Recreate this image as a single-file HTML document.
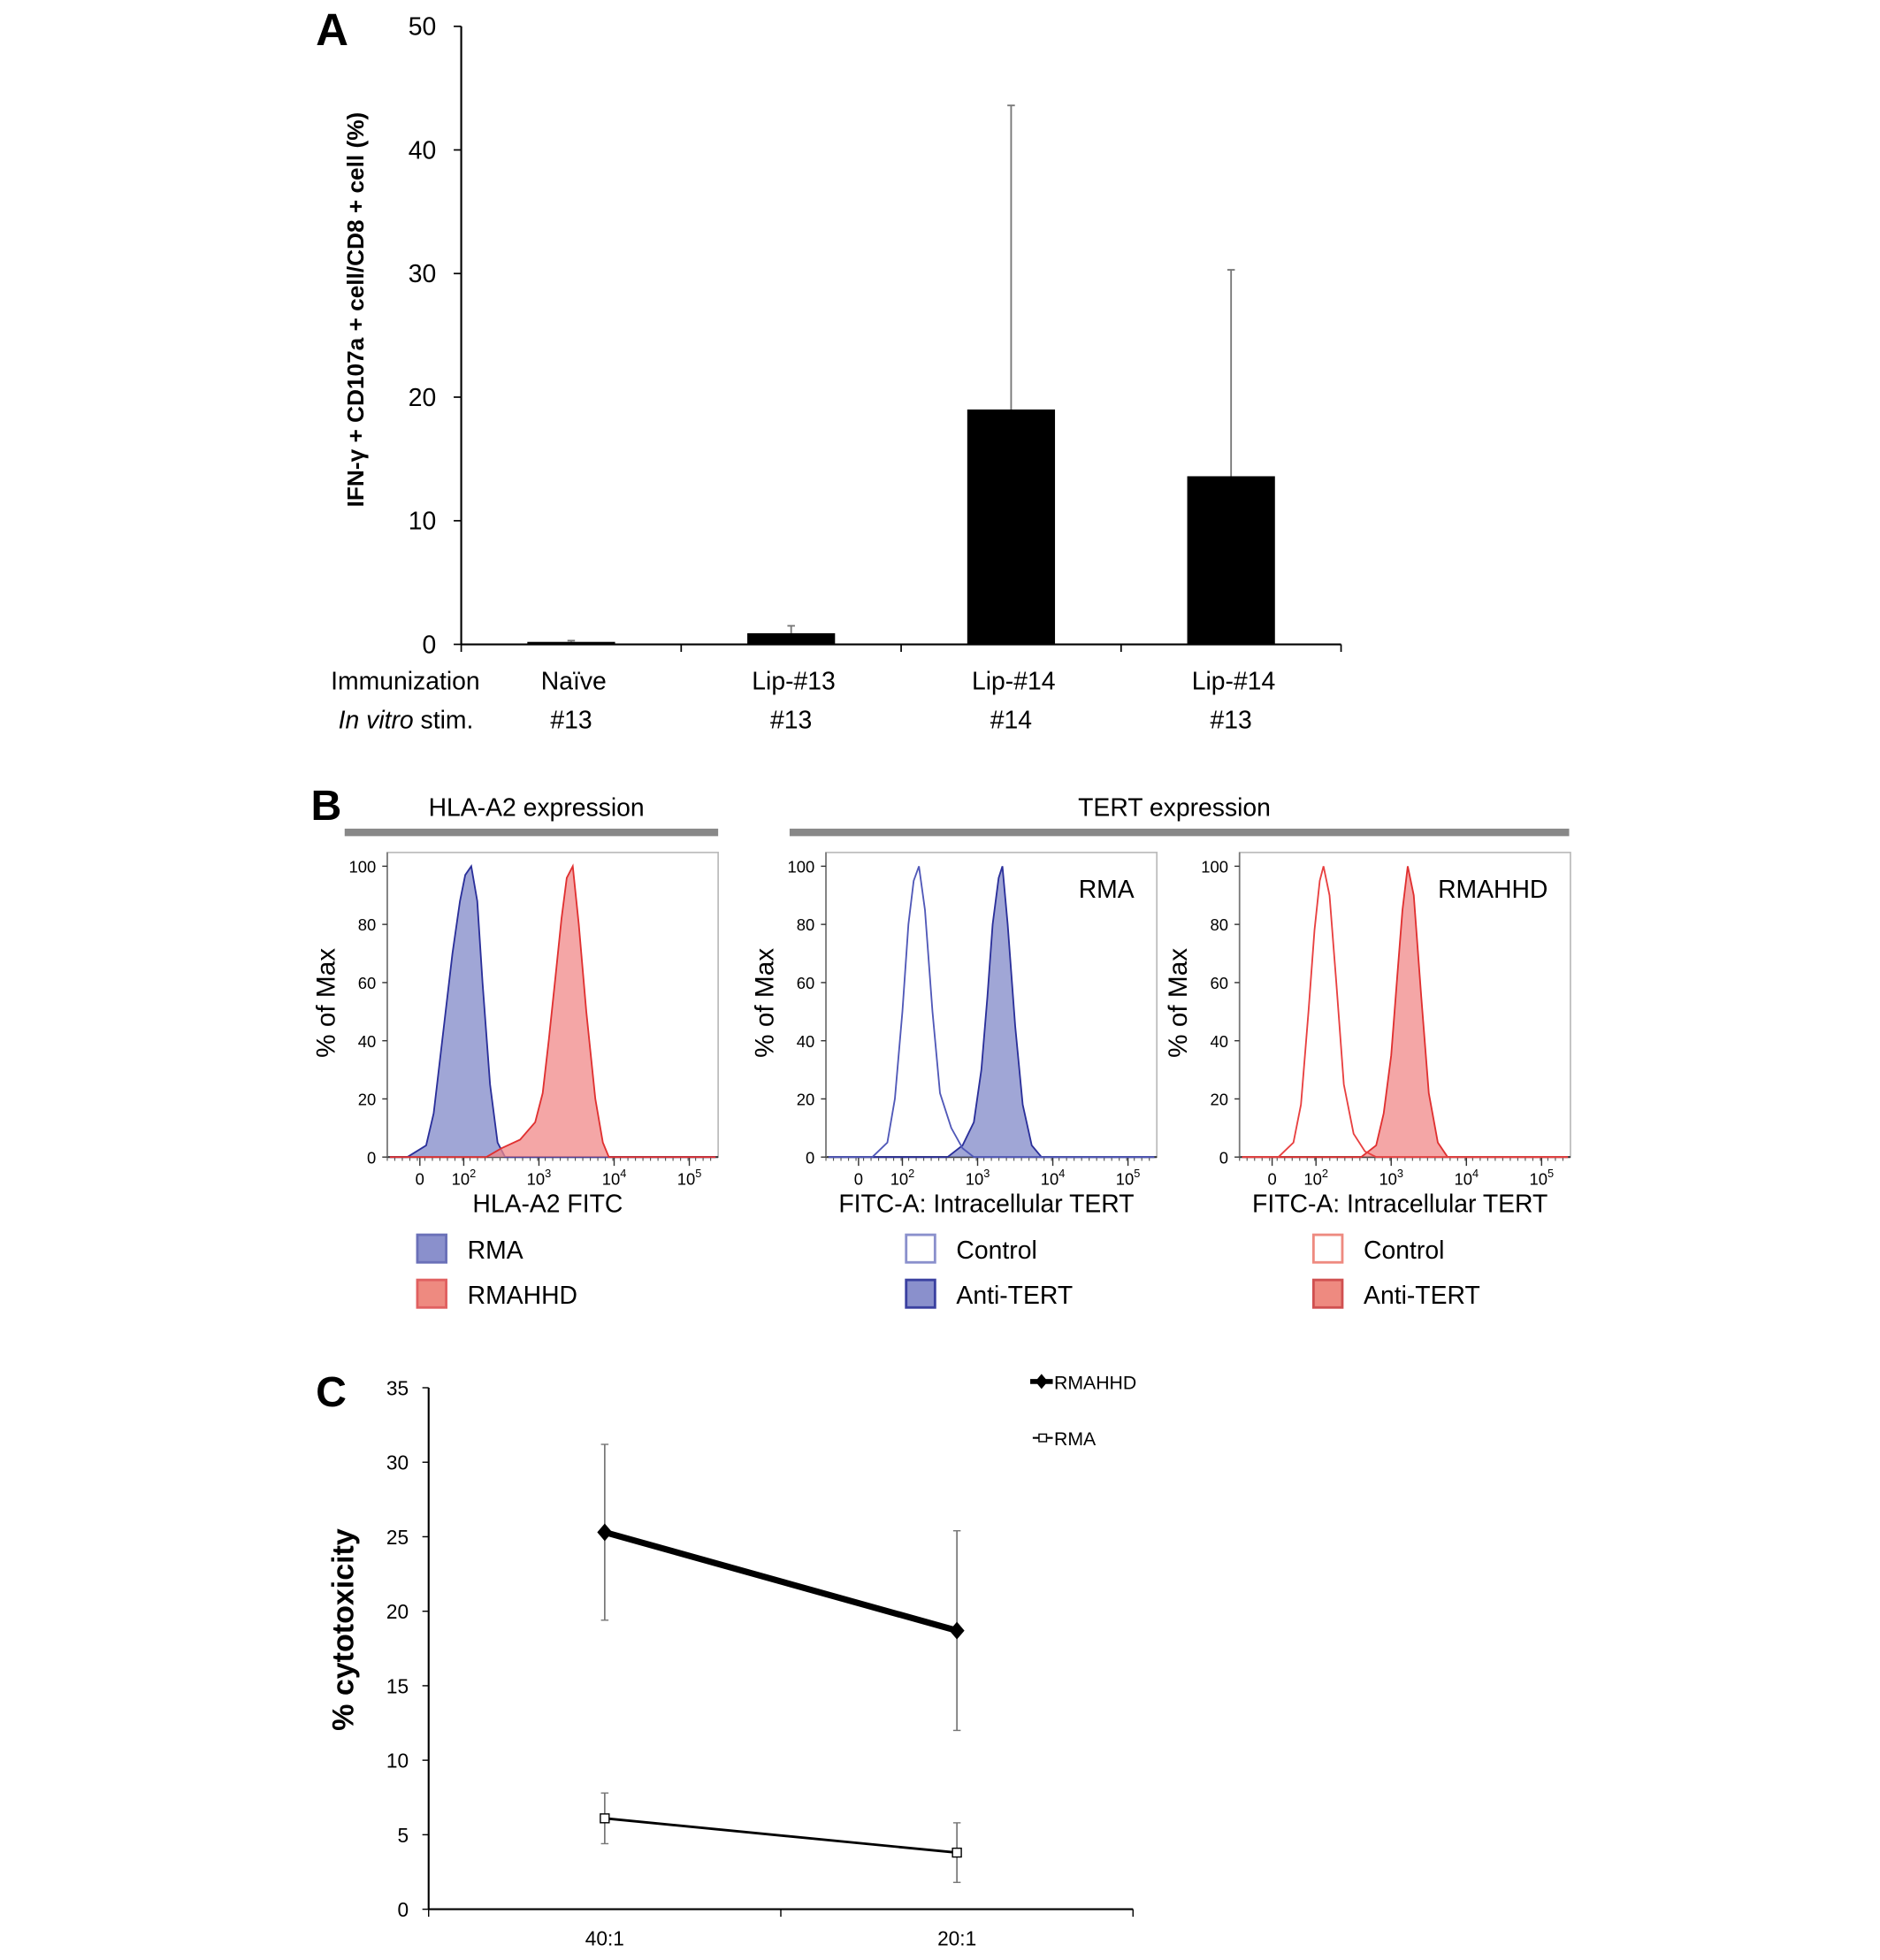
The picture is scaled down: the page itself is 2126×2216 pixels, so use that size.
<!DOCTYPE html>
<html><head><meta charset="utf-8">
<style>
html,body{margin:0;padding:0;background:#fff}
svg{display:block}
text{font-family:"Liberation Sans",sans-serif}
</style></head>
<body>
<svg id="fig" width="2126" height="2216" viewBox="0 0 1500 1563.5" xmlns="http://www.w3.org/2000/svg">
<g id="pa"></g>
<g id="pb"></g>
<g id="pc"></g>
</svg>
<script>
// Panel A data
const catsImm = ["Naïve","Lip-#13","Lip-#14","Lip-#14"];
const catsStim = ["#13","#13","#14","#13"];
const barValues = [0.2, 0.9, 19.0, 13.6];
const barErrTop = [0.3, 1.5, 43.6, 30.3];
const aTicks = [0,10,20,30,40,50];
// Panel B histogram data: log10 fluorescence and % of max
const h1RmaLog = [1.25,1.5,1.6,1.75,1.85,1.95,2.02,2.1,2.18,2.25,2.35,2.45,2.55];
const h1RmaPct = [0,4,15,48,70,88,97,100,88,60,25,5,0];
const h1HhdLog = [2.3,2.5,2.75,2.95,3.05,3.13,3.22,3.3,3.37,3.45,3.53,3.63,3.75,3.85,3.93];
const h1HhdPct = [0,3,6,12,22,40,62,82,96,100,80,50,20,5,0];
const h2CtlLog = [1.6,1.8,1.9,2.0,2.08,2.15,2.22,2.3,2.4,2.5,2.65,2.8,2.95];
const h2CtlPct = [0,5,20,50,80,95,100,85,50,22,10,3,0];
const h2AntiLog = [2.6,2.8,2.95,3.05,3.13,3.2,3.28,3.33,3.4,3.5,3.6,3.72,3.85];
const h2AntiPct = [0,4,12,30,55,80,96,100,80,45,18,4,0];
const h3CtlLog = [1.5,1.7,1.8,1.9,1.98,2.05,2.1,2.18,2.27,2.37,2.5,2.65,2.8];
const h3CtlPct = [0,5,18,50,78,95,100,90,60,25,8,2,0];
const h3AntiLog = [2.6,2.8,2.9,3.0,3.08,3.15,3.22,3.3,3.4,3.5,3.62,3.75];
const h3AntiPct = [0,4,15,35,62,85,100,90,55,22,5,0];
const bTicks = [0,20,40,60,80,100];
// Panel C data
const cCats = ["40:1","20:1"];
const rmahhdVals = [25.3, 18.7];
const rmahhdHi = [31.2, 25.4];
const rmahhdLo = [19.4, 12.0];
const rmaVals = [6.1, 3.8];
const rmaHi = [7.8, 5.8];
const rmaLo = [4.4, 1.8];
const cTicks = [0,5,10,15,20,25,30,35];

const NS="http://www.w3.org/2000/svg";
function mk(parent,tag,attrs,txt){const e=document.createElementNS(NS,tag);for(const k in attrs)e.setAttribute(k,attrs[k]);if(txt!==undefined)e.textContent=txt;parent.appendChild(e);return e;}

// ---------- Panel A ----------
const pa=document.getElementById('pa');
const aX0=368,aX1=1070,aY0=514,aY1=21;
const ay=v=>aY0-(v/50)*(aY0-aY1);
const catW=(aX1-aX0)/4;
const acx=i=>aX0+catW*(i+0.5);
let t;
t=mk(pa,'text',{x:252,y:36,'font-size':36,'font-weight':'bold'},'A');

let l=mk(pa,'line',{x1:aX0,y1:aY1,x2:aX0,y2:aY0,stroke:'#000','stroke-width':1.5});

l=mk(pa,'line',{x1:aX0,y1:aY0,x2:aX1,y2:aY0,stroke:'#000','stroke-width':1.5});

aTicks.forEach(v=>{
  mk(pa,'line',{x1:aX0-6,y1:ay(v),x2:aX0,y2:ay(v),stroke:'#000','stroke-width':1.2});
  const tt=mk(pa,'text',{x:348,y:ay(v)+7,'font-size':20,'text-anchor':'end'},String(v));
  
});
for(let i=0;i<=4;i++) mk(pa,'line',{x1:aX0+catW*i,y1:aY0,x2:aX0+catW*i,y2:aY0+6,stroke:'#000','stroke-width':1.2});
barValues.forEach((v,i)=>{
  const cx=acx(i);
  const el=mk(pa,'line',{x1:cx,y1:ay(barErrTop[i]),x2:cx,y2:ay(v),stroke:'#777','stroke-width':1.3});
  
  mk(pa,'line',{x1:cx-3,y1:ay(barErrTop[i]),x2:cx+3,y2:ay(barErrTop[i]),stroke:'#777','stroke-width':1.3});
  const r=mk(pa,'rect',{x:cx-35,y:ay(v),width:70,height:Math.max(aY0-ay(v),1.5),fill:'#000'});
  
  const a=mk(pa,'text',{x:cx+2,y:550,'font-size':20,'text-anchor':'middle'},catsImm[i]);
  
  const b=mk(pa,'text',{x:cx,y:581,'font-size':20,'text-anchor':'middle'},catsStim[i]);
  
});
t=mk(pa,'text',{x:264,y:550,'font-size':20},'Immunization');

t=mk(pa,'text',{x:270,y:581,'font-size':20});

t.innerHTML='<tspan font-style="italic">In vitro</tspan> stim.';
t=mk(pa,'text',{x:0,y:0,'font-size':18.5,'font-weight':'bold','text-anchor':'middle',transform:'translate(290,247) rotate(-90)'},'IFN-γ + CD107a + cell/CD8 + cell (%)');


// ---------- Panel B ----------
const pb=document.getElementById('pb');
t=mk(pb,'text',{x:248,y:654,'font-size':34,'font-weight':'bold'},'B');

t=mk(pb,'text',{x:428,y:651,'font-size':20,'text-anchor':'middle'},'HLA-A2 expression');

t=mk(pb,'text',{x:937,y:651,'font-size':20,'text-anchor':'middle'},'TERT expression');

mk(pb,'rect',{x:275,y:661,width:298,height:6,fill:'#888'});
mk(pb,'rect',{x:630,y:661,width:622,height:6,fill:'#888'});
const BT=680,BB=923,BW=264,Y100=691;
const by=p=>BB-(p/100)*(BB-Y100);
function histo(left,name,xtitle,series,inset,legend){
  const g=mk(pb,'g',{});
  
  const bx=lg=>left+61+(lg-2)*60;
  mk(g,'rect',{x:left,y:BT,width:BW,height:BB-BT,fill:'#fff',stroke:'#bbb','stroke-width':1.2});
  mk(g,'line',{x1:left,y1:BB,x2:left+BW,y2:BB,stroke:'#333','stroke-width':1.5});
  mk(g,'line',{x1:left,y1:BT,x2:left,y2:BB,stroke:'#777','stroke-width':1.2});
  bTicks.forEach(v=>{
    mk(g,'line',{x1:left-4,y1:by(v),x2:left,y2:by(v),stroke:'#333'});
    const tt=mk(g,'text',{x:left-9,y:by(v)+5,'font-size':13,'text-anchor':'end'},String(v));
    
  });
  for(let k=0;k<BW;k+=6) mk(g,'line',{x1:left+k,y1:BB,x2:left+k,y2:BB+3,stroke:'#555','stroke-width':0.8});
  [0,2,3,4,5].forEach((d,i)=>{
    const x=i===0?left+26:bx(d);
    mk(g,'line',{x1:x,y1:BB,x2:x,y2:BB+7,stroke:'#333'});
    const tt=mk(g,'text',{x:x,y:945,'font-size':13,'text-anchor':'middle'});
    
    if(i===0) tt.textContent='0'; else tt.innerHTML='10<tspan dy="-6" font-size="9">'+d+'</tspan>';
  });
  series.forEach(s=>{
    let d='M'+(left+2)+','+BB;
    d+=' L'+bx(s.lg[0])+','+BB;
    s.lg.forEach((lg,i)=>{d+=' L'+bx(lg).toFixed(1)+','+by(s.p[i]).toFixed(1);});
    d+=' L'+(left+BW-2)+','+BB;
    const p=mk(g,'path',{d:d,fill:s.fill,'fill-opacity':s.fill==='none'?0:0.75,stroke:s.stroke,'stroke-width':1.3});
    
  });
  let tt=mk(g,'text',{x:left+BW/2-4,y:967,'font-size':20,'text-anchor':'middle'},xtitle);
  
  tt=mk(g,'text',{x:0,y:0,'font-size':21,'text-anchor':'middle',transform:'translate('+(left-42)+',800) rotate(-90)'},'% of Max');
  
  if(inset){tt=mk(g,'text',{x:left+BW-18,y:716,'font-size':20,'text-anchor':'end'},inset);
    }
  legend.forEach((e,i)=>{
    const yy=985+i*36;
    const r=mk(g,'rect',{x:e.x,y:yy,width:23,height:22,fill:e.fill,stroke:e.stroke,'stroke-width':2});
    
    const lt=mk(g,'text',{x:e.x+40,y:yy+19,'font-size':20},e.label);
    
  });
}
const blueF='#8088c8',blueS='#2a2f9a',redF='#f08888',redS='#e03030';
histo(309,'hla-histogram','HLA-A2 FITC',[
  {lg:h1RmaLog,p:h1RmaPct,fill:blueF,stroke:blueS,name:'rma-histogram'},
  {lg:h1HhdLog,p:h1HhdPct,fill:redF,stroke:redS,name:'rmahhd-histogram'}],null,
  [{x:333,fill:'#8a90cc',stroke:'#6a70b8',label:'RMA'},{x:333,fill:'#ee8a80',stroke:'#e06060',label:'RMAHHD'}]);
histo(659,'tert-rma-histogram','FITC-A: Intracellular TERT',[
  {lg:h2AntiLog,p:h2AntiPct,fill:blueF,stroke:blueS,name:'anti-tert-histogram'},
  {lg:h2CtlLog,p:h2CtlPct,fill:'none',stroke:'#5058b8',name:'control-histogram'}],'RMA',
  [{x:723,fill:'#fff',stroke:'#8a90cc',label:'Control'},{x:723,fill:'#8a90cc',stroke:'#3a40a0',label:'Anti-TERT'}]);
histo(989,'tert-rmahhd-histogram','FITC-A: Intracellular TERT',[
  {lg:h3AntiLog,p:h3AntiPct,fill:redF,stroke:redS,name:'anti-tert-histogram'},
  {lg:h3CtlLog,p:h3CtlPct,fill:'none',stroke:'#e84040',name:'control-histogram'}],'RMAHHD',
  [{x:1048,fill:'#fff',stroke:'#ee8a80',label:'Control'},{x:1048,fill:'#ee8a80',stroke:'#d05050',label:'Anti-TERT'}]);

// ---------- Panel C ----------
const pc=document.getElementById('pc');
const cX0=342,cX1=904,cY0=1523,cY1=1107;
const cy=v=>cY0-(v/35)*(cY0-cY1);
const cx=i=>cX0+(cX1-cX0)/2*(i+0.5);
t=mk(pc,'text',{x:252,y:1122,'font-size':34,'font-weight':'bold'},'C');

l=mk(pc,'line',{x1:cX0,y1:cY1,x2:cX0,y2:cY0,stroke:'#000','stroke-width':1.5});

l=mk(pc,'line',{x1:cX0,y1:cY0,x2:cX1,y2:cY0,stroke:'#000','stroke-width':1.5});

cTicks.forEach(v=>{
  mk(pc,'line',{x1:cX0-5,y1:cy(v),x2:cX0,y2:cy(v),stroke:'#000'});
  const tt=mk(pc,'text',{x:326,y:cy(v)+6,'font-size':16,'text-anchor':'end'},String(v));
  
});
[0,1,2].forEach(k=>mk(pc,'line',{x1:cX0+(cX1-cX0)/2*k,y1:cY0,x2:cX0+(cX1-cX0)/2*k,y2:cY0+6,stroke:'#000'}));
cCats.forEach((c,i)=>{const tt=mk(pc,'text',{x:cx(i),y:1552,'font-size':16,'text-anchor':'middle'},c);
  });
function errs(hi,lo){hi.forEach((h,i)=>{
  const e=mk(pc,'line',{x1:cx(i),y1:cy(h),x2:cx(i),y2:cy(lo[i]),stroke:'#777','stroke-width':1.2});
  
  mk(pc,'line',{x1:cx(i)-3,y1:cy(h),x2:cx(i)+3,y2:cy(h),stroke:'#777'});
  mk(pc,'line',{x1:cx(i)-3,y1:cy(lo[i]),x2:cx(i)+3,y2:cy(lo[i]),stroke:'#777'});});}
errs(rmahhdHi,rmahhdLo);errs(rmaHi,rmaLo);
l=mk(pc,'polyline',{points:rmahhdVals.map((v,i)=>cx(i)+','+cy(v)).join(' '),fill:'none',stroke:'#000','stroke-width':5});

rmahhdVals.forEach((v,i)=>{const m=mk(pc,'polygon',{points:`${cx(i)},${cy(v)-7} ${cx(i)+6},${cy(v)} ${cx(i)},${cy(v)+7} ${cx(i)-6},${cy(v)}`,fill:'#000'});
  });
l=mk(pc,'polyline',{points:rmaVals.map((v,i)=>cx(i)+','+cy(v)).join(' '),fill:'none',stroke:'#000','stroke-width':2});

rmaVals.forEach((v,i)=>{const m=mk(pc,'rect',{x:cx(i)-3.5,y:cy(v)-3.5,width:7,height:7,fill:'#fff',stroke:'#000','stroke-width':1});
  });
t=mk(pc,'text',{x:0,y:0,'font-size':24,'font-weight':'bold','text-anchor':'middle',transform:'translate(282,1300) rotate(-90)'},'% cytotoxicity');

mk(pc,'line',{x1:822,y1:1102,x2:840,y2:1102,stroke:'#000','stroke-width':4});
mk(pc,'polygon',{points:'831,1096 836,1102 831,1108 826,1102',fill:'#000'});
t=mk(pc,'text',{x:841,y:1108,'font-size':15},'RMAHHD');

mk(pc,'line',{x1:824,y1:1147,x2:840,y2:1147,stroke:'#000','stroke-width':1.5});
mk(pc,'rect',{x:829,y:1144,width:6,height:6,fill:'#fff',stroke:'#000'});
t=mk(pc,'text',{x:841,y:1153,'font-size':15},'RMA');

</script>
</body></html>
